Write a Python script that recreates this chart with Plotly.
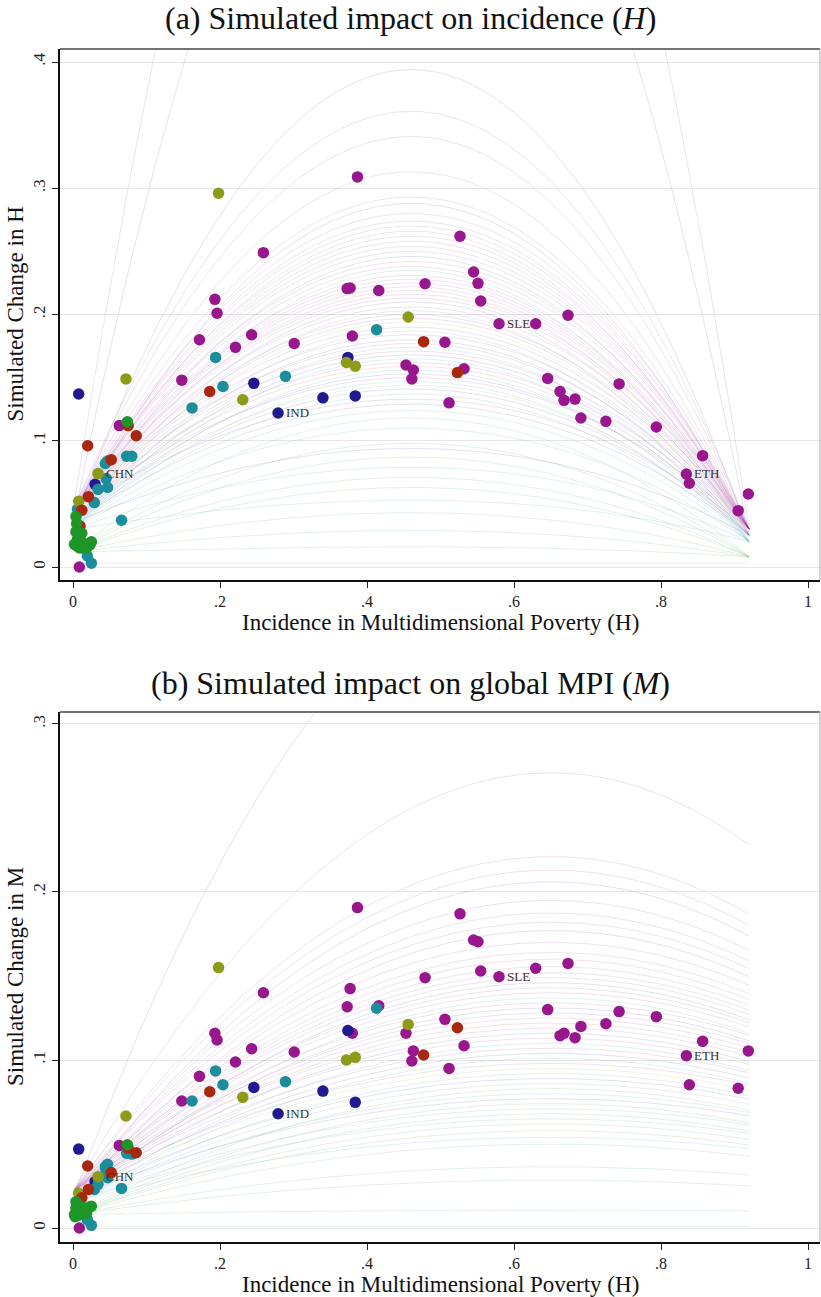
import numpy as np
import plotly.graph_objects as go

# ---------------- point data (country estimates) ----------------
# x = incidence H ; yH = simulated change in H ; yM = simulated change in M
ssa_x = [0.387, 0.259, 0.193, 0.196, 0.373, 0.377, 0.416, 0.172, 0.243, 0.221, 0.301, 0.380,
         0.453, 0.463, 0.461, 0.148, 0.063, 0.0086, 0.5265, 0.545, 0.551, 0.5547, 0.479, 0.5796,
         0.6295, 0.6735, 0.506, 0.532, 0.5116, 0.6458, 0.6626, 0.668, 0.683, 0.743, 0.691, 0.725,
         0.7936, 0.8566, 0.8345, 0.8385, 0.9188, 0.905]
ssa_yH = [0.309, 0.249, 0.212, 0.201, 0.2205, 0.221, 0.219, 0.180, 0.184, 0.174, 0.177, 0.183,
          0.160, 0.156, 0.149, 0.148, 0.112, 0.000, 0.262, 0.2337, 0.2247, 0.2107, 0.2244, 0.1927,
          0.1927, 0.1994, 0.178, 0.157, 0.130, 0.1494, 0.139, 0.132, 0.133, 0.145, 0.118, 0.1154,
          0.1109, 0.0882, 0.0737, 0.0663, 0.0578, 0.0446]
ssa_yM = [0.1907, 0.140, 0.1159, 0.1119, 0.1317, 0.1425, 0.1323, 0.0903, 0.1067, 0.0988, 0.1048, 0.1159,
          0.1159, 0.1054, 0.0994, 0.0756, 0.0492, 0.000, 0.187, 0.1714, 0.1704, 0.153, 0.149, 0.1496,
          0.1546, 0.1575, 0.1242, 0.1085, 0.095, 0.130, 0.1145, 0.1159, 0.1133, 0.1288, 0.120, 0.1216,
          0.1258, 0.1111, 0.1026, 0.0853, 0.1054, 0.0832]
ssa_lab = [""] * 42
ssa_lab[23] = "SLE"
ssa_lab[38] = "ETH"

sa_x = [0.374, 0.246, 0.340, 0.384, 0.279, 0.0077, 0.030]
sa_yH = [0.166, 0.1455, 0.134, 0.1355, 0.122, 0.137, 0.0655]
sa_yM = [0.1175, 0.0837, 0.0815, 0.0748, 0.068, 0.047, 0.0276]
sa_lab = ["", "", "", "", "IND", "", ""]

eap_x = [0.413, 0.194, 0.204, 0.289, 0.162, 0.073, 0.080, 0.044, 0.047, 0.045, 0.034, 0.047,
         0.029, 0.006, 0.066, 0.0195, 0.025]
eap_yH = [0.188, 0.166, 0.143, 0.151, 0.126, 0.0877, 0.0877, 0.082, 0.084, 0.070, 0.0615, 0.063,
          0.051, 0.0457, 0.037, 0.0087, 0.003]
eap_yM = [0.1308, 0.0935, 0.0853, 0.0871, 0.0756, 0.0445, 0.0440, 0.0365, 0.038, 0.0345, 0.026, 0.030,
          0.023, 0.016, 0.0236, 0.005, 0.0016]

lac_x = [0.198, 0.456, 0.372, 0.384, 0.231, 0.072, 0.034, 0.0077]
lac_yH = [0.296, 0.198, 0.162, 0.159, 0.1325, 0.149, 0.074, 0.052]
lac_yM = [0.155, 0.1212, 0.100, 0.1016, 0.0778, 0.0667, 0.0306, 0.0207]
lac_lab = ["", "", "", "", "", "", "CHN", ""]

as_x = [0.186, 0.477, 0.523, 0.075, 0.086, 0.020, 0.052, 0.021, 0.012, 0.0095]
as_yH = [0.139, 0.1785, 0.154, 0.112, 0.104, 0.096, 0.085, 0.0557, 0.045, 0.0325]
as_yM = [0.0811, 0.103, 0.1192, 0.0476, 0.0448, 0.0369, 0.033, 0.023, 0.018, 0.012]

eca_x = [0.074, 0.004, 0.005, 0.012, 0.004, 0.003, 0.007, 0.023, 0.0186, 0.025, 0.002, 0.010, 0.006, 0.014]
eca_yH = [0.115, 0.040, 0.0345, 0.0267, 0.028, 0.0174, 0.016, 0.0174, 0.0153, 0.020, 0.018, 0.015, 0.022, 0.019]
eca_yM = [0.0496, 0.0157, 0.0107, 0.0127, 0.012, 0.0067, 0.0077, 0.0127, 0.009, 0.013, 0.008, 0.008, 0.010, 0.011]

# ---------------- simulated curves ----------------
curveA_peak = [0.394, 0.361, 0.341, 0.313, 0.293, 0.288, 0.280, 0.274, 0.270, 0.266, 0.262, 0.258,
               0.254, 0.250, 0.246, 0.242, 0.238, 0.235, 0.231, 0.228, 0.225, 0.222, 0.219, 0.216,
               0.213, 0.210, 0.206, 0.203, 0.200, 0.197, 0.194, 0.190, 0.187, 0.184, 0.180, 0.177,
               0.174, 0.171, 0.168, 0.165, 0.162, 0.159, 0.156, 0.153, 0.150, 0.147, 0.144, 0.141,
               0.137, 0.133, 0.129, 0.124, 0.118, 0.110, 0.098, 0.094, 0.087, 0.079, 0.071, 0.063,
               0.053, 0.043, 0.029, 0.016, 0.003, 0.90, 0.70]
curveA_reg = ["N", "P", "P", "P", "P", "N", "P", "P", "P", "R", "P", "P",
              "P", "P", "N", "P", "P", "T", "P", "P", "P", "P", "R", "P",
              "P", "N", "P", "T", "P", "P", "O", "P", "T", "P", "N", "P",
              "T", "P", "N", "T", "P", "R", "T", "N", "P", "T", "O", "N",
              "T", "P", "N", "T", "G", "T", "G", "N", "G", "T", "G", "G",
              "T", "G", "G", "G", "G", "P", "N"]
curveB_peak = [0.271, 0.221, 0.213, 0.206, 0.195, 0.1875, 0.182, 0.177, 0.170, 0.164, 0.160, 0.1556,
               0.152, 0.149, 0.146, 0.143, 0.140, 0.137, 0.134, 0.131, 0.128, 0.125, 0.122, 0.119,
               0.116, 0.113, 0.110, 0.107, 0.104, 0.101, 0.098, 0.095, 0.092, 0.089, 0.086, 0.083,
               0.080, 0.077, 0.074, 0.071, 0.068, 0.065, 0.062, 0.058, 0.054, 0.050, 0.0365, 0.0286,
               0.0107, 0.001, 0.40]
curveB_reg = ["P", "P", "P", "N", "P", "P", "P", "N", "P", "P", "R", "P",
              "P", "P", "N", "P", "P", "T", "P", "N", "P", "P", "R", "P",
              "N", "P", "T", "P", "N", "T", "P", "O", "T", "N", "T", "G",
              "T", "N", "G", "T", "G", "T", "G", "G", "T", "G", "G", "G",
              "G", "G", "N"]
reg_start_A = {"P": 0.045, "N": 0.035, "T": 0.030, "O": 0.040, "R": 0.040, "G": 0.012}
reg_end_A = {"P": 0.030, "N": 0.025, "T": 0.020, "O": 0.025, "R": 0.025, "G": 0.008}
reg_start_B = {"P": 0.022, "N": 0.018, "T": 0.015, "O": 0.020, "R": 0.020, "G": 0.008}

reg_rgb = {"P": (150, 25, 140), "N": (35, 30, 155), "T": (25, 140, 155),
           "O": (140, 155, 25), "R": (170, 40, 20), "G": (30, 150, 35)}
marker_col = {"P": "#99178d", "N": "#21198f", "T": "#1b8d9b", "O": "#8c9b18",
              "R": "#a9260f", "G": "#1d9627"}

SERIF = "Liberation Serif"
fig = go.Figure()

xs = np.linspace(0.002, 0.92, 120)

# panel (a) curves
for pk, rg in zip(curveA_peak, curveA_reg):
    st = min(reg_start_A[rg], pk)
    en = min(reg_end_A[rg], pk)
    s = xs * (0.92 - xs) / 0.2116
    base = st + (en - st) * xs / 0.92
    ys = base * (1 - s) + pk * s
    r, g, b = reg_rgb[rg]
    fig.add_trace(go.Scatter(x=xs, y=ys, mode="lines", xaxis="x", yaxis="y",
                             line=dict(color=f"rgba({r},{g},{b},0.13)", width=1),
                             hoverinfo="skip", showlegend=False))
# panel (b) curves
for pk, rg in zip(curveB_peak, curveB_reg):
    st = min(reg_start_B[rg], pk)
    s = xs * (1.3 - xs) / 0.4225
    ys = st * (1 - s) + pk * s
    r, g, b = reg_rgb[rg]
    fig.add_trace(go.Scatter(x=xs, y=ys, mode="lines", xaxis="x2", yaxis="y2",
                             line=dict(color=f"rgba({r},{g},{b},0.13)", width=1),
                             hoverinfo="skip", showlegend=False))

groups = [("P", ssa_x, ssa_yH, ssa_yM, ssa_lab),
          ("N", sa_x, sa_yH, sa_yM, sa_lab),
          ("T", eap_x, eap_yH, eap_yM, None),
          ("O", lac_x, lac_yH, lac_yM, lac_lab),
          ("R", as_x, as_yH, as_yM, None),
          ("G", eca_x, eca_yH, eca_yM, None)]

for rg, gx, gyH, gyM, lab in groups:
    for ax, ay, gy in (("x", "y", gyH), ("x2", "y2", gyM)):
        fig.add_trace(go.Scatter(x=gx, y=gy, mode="markers", xaxis=ax, yaxis=ay,
                                 marker=dict(color=marker_col[rg], size=11.5, line=dict(width=0)),
                                 hoverinfo="skip", showlegend=False))
        if lab:
            for lx, ly, t in zip(gx, gy, lab):
                if t:
                    fig.add_annotation(x=lx, y=ly, xref=ax, yref=ay, text=t, showarrow=False,
                                       xanchor="left", yanchor="middle", xshift=6,
                                       font=dict(family=SERIF, size=13, color="#333"))

W, Hh = 821, 1297
xdom = [60 / W, 820 / W]
ydomA = [1 - 580 / Hh, 1 - 49 / Hh]
ydomB = [1 - 1242 / Hh, 1 - 712 / Hh]

xcommon = dict(range=[-0.0177, 1.0163], tickvals=[0, 0.2, 0.4, 0.6, 0.8, 1],
               ticktext=["0", ".2", ".4", ".6", ".8", "1"], ticks="outside", ticklen=6,
               tickwidth=1.3, tickcolor="#222", showline=True, linecolor="#111", linewidth=2,
               showgrid=False, zeroline=False, domain=xdom,
               tickfont=dict(family=SERIF, size=16, color="#222"))
ycommon = dict(ticks="outside", ticklen=6, tickwidth=1.3, tickcolor="#222", showline=True,
               linecolor="#111", linewidth=2, showgrid=True, gridcolor="#e6e6e6", gridwidth=1,
               zeroline=False, tickangle=-90, tickfont=dict(family=SERIF, size=17, color="#222"))

fig.update_layout(
    width=W, height=Hh, margin=dict(l=0, r=0, t=0, b=0),
    paper_bgcolor="white", plot_bgcolor="white", showlegend=False,
    xaxis=dict(**xcommon, anchor="y"),
    yaxis=dict(**ycommon, domain=ydomA, anchor="x", range=[-0.0103, 0.4103],
               tickvals=[0, 0.1, 0.2, 0.3, 0.4], ticktext=["0", ".1", ".2", ".3", ".4"]),
    xaxis2=dict(**xcommon, anchor="y2"),
    yaxis2=dict(**ycommon, domain=ydomB, anchor="x2", range=[-0.0083, 0.3071],
                tickvals=[0, 0.1, 0.2, 0.3], ticktext=["0", ".1", ".2", ".3"]),
)

# plot-region borders (top darker, right light)
for xr, yr in (("x domain", "y domain"), ("x2 domain", "y2 domain")):
    fig.add_shape(type="line", xref=xr, yref=yr, x0=0, x1=1, y0=1, y1=1,
                  line=dict(color="#444", width=1.5))
    fig.add_shape(type="line", xref=xr, yref=yr, x0=1, x1=1, y0=0, y1=1,
                  line=dict(color="#aaa", width=1))

# titles
fig.add_annotation(x=0.5, y=1 - 18 / Hh, xref="paper", yref="paper", showarrow=False,
                   xanchor="center", yanchor="middle",
                   text="(a) Simulated impact on incidence (<i>H</i>)",
                   font=dict(family=SERIF, size=32, color="#111"))
fig.add_annotation(x=0.5, y=1 - 683 / Hh, xref="paper", yref="paper", showarrow=False,
                   xanchor="center", yanchor="middle",
                   text="(b) Simulated impact on global MPI (<i>M</i>)",
                   font=dict(family=SERIF, size=32, color="#111"))
for yy in (1 - 623 / Hh, 1 - 1284 / Hh):
    fig.add_annotation(x=440 / W, y=yy, xref="paper", yref="paper", showarrow=False,
                       xanchor="center", yanchor="middle",
                       text="Incidence in Multidimensional Poverty (H)",
                       font=dict(family=SERIF, size=23, color="#111"))
fig.add_annotation(x=15 / W, y=1 - 314.5 / Hh, xref="paper", yref="paper", showarrow=False,
                   xanchor="center", yanchor="middle",
                   text="Simulated Change in H", textangle=-90,
                   font=dict(family=SERIF, size=23, color="#111"))
fig.add_annotation(x=15 / W, y=1 - 977 / Hh, xref="paper", yref="paper", showarrow=False,
                   xanchor="center", yanchor="middle",
                   text="Simulated Change in M", textangle=-90,
                   font=dict(family=SERIF, size=23, color="#111"))

fig.write_html("out.html", config={"displayModeBar": False},
               post_script="document.body.style.margin='0';document.body.style.padding='0';"
                           "document.body.style.overflow='hidden';")
